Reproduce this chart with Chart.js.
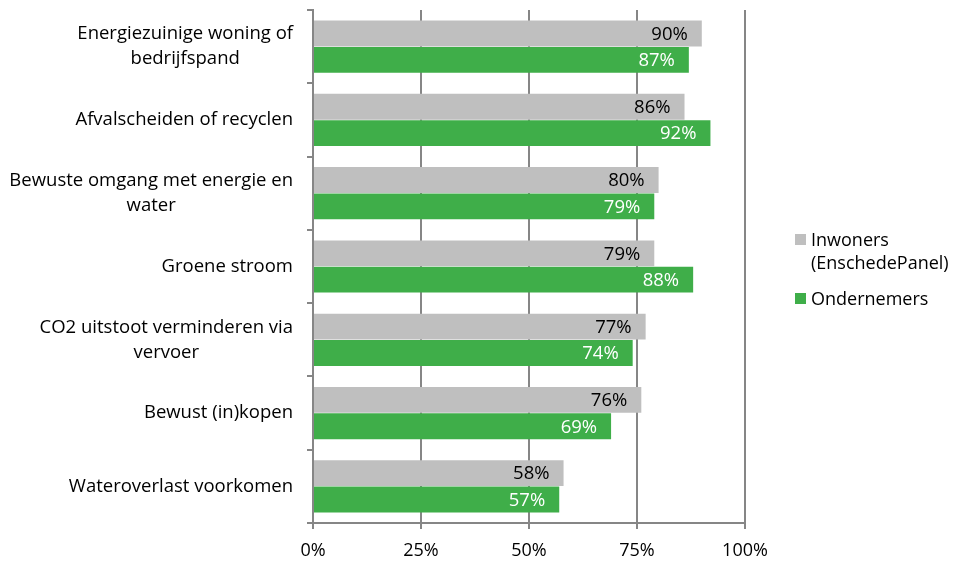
<!DOCTYPE html>
<html>
<head>
<meta charset="utf-8">
<script src="https://cdn.jsdelivr.net/npm/chart.js@4/dist/chart.umd.min.js"></script>
<style>
  html, body { margin: 0; padding: 0; background: #fff; }
  #wrap { position: relative; width: 955px; height: 563px; }
  #legend { position: absolute; left: 795px; top: 228px; font-family: "Open Sans", Lato, sans-serif; font-size: 18px; color: #000; line-height: 23px; white-space: nowrap; }
  .item { display: flex; align-items: flex-start; margin-bottom: 13px; }
  .box { width: 11px; height: 11px; margin-top: 6px; margin-right: 5px; flex: none; }
</style>
</head>
<body>
<div id="wrap">
  <canvas id="c" width="955" height="563"></canvas>
  <div id="legend"></div>
</div>
<script>
const categories = [
  ["Energiezuinige woning of", "bedrijfspand"],
  ["Afvalscheiden of recyclen"],
  ["Bewuste omgang met energie en", "water"],
  ["Groene stroom"],
  ["CO2 uitstoot verminderen via", "vervoer"],
  ["Bewust (in)kopen"],
  ["Wateroverlast voorkomen"]
];
const seriesNames = [["Inwoners", "(EnschedePanel)"], ["Ondernemers"]];
const inwoners = [90, 86, 80, 79, 77, 76, 58];
const ondernemers = [87, 92, 79, 88, 74, 69, 57];
const xTicks = [0, 25, 50, 75, 100];

const FONT = '"Open Sans", Lato, sans-serif';
const colors = ['#bfbfbf', '#3fae49'];
const labelColors = ['#000000', '#ffffff'];

const yLabelPlugin = {
  id: 'yLabels',
  afterDraw(chart) {
    const ctx = chart.ctx;
    const y = chart.scales.y;
    ctx.save();
    ctx.font = '18.5px ' + FONT;
    ctx.fillStyle = '#000';
    ctx.textBaseline = 'middle';
    const rightEdge = y.right - 20;
    const lh = 25;
    categories.forEach((lines, i) => {
      const cy = y.getPixelForTick(i);
      const widths = lines.map(l => ctx.measureText(l).width);
      const maxW = Math.max(...widths);
      const center = rightEdge - maxW / 2;
      ctx.textAlign = 'center';
      lines.forEach((l, k) => {
        const ly = cy + (k - (lines.length - 1) / 2) * lh;
        ctx.fillText(l, center, ly);
      });
    });
    ctx.restore();
  }
};

const valueLabelPlugin = {
  id: 'valueLabels',
  afterDatasetsDraw(chart) {
    const ctx = chart.ctx;
    ctx.save();
    ctx.font = '18.5px ' + FONT;
    ctx.textAlign = 'right';
    ctx.textBaseline = 'middle';
    chart.data.datasets.forEach((ds, di) => {
      const meta = chart.getDatasetMeta(di);
      ctx.fillStyle = labelColors[di];
      meta.data.forEach((bar, i) => {
        ctx.fillText(ds.data[i] + '%', bar.x - 14, bar.y + 1);
      });
    });
    ctx.restore();
  }
};

new Chart(document.getElementById('c'), {
  type: 'bar',
  data: {
    labels: categories.map(c => c.join(' ')),
    datasets: [
      { label: seriesNames[0].join(' '), data: inwoners, backgroundColor: colors[0], categoryPercentage: 0.72, barPercentage: 0.98 },
      { label: seriesNames[1].join(' '), data: ondernemers, backgroundColor: colors[1], categoryPercentage: 0.72, barPercentage: 0.98 }
    ]
  },
  options: {
    indexAxis: 'y',
    responsive: false,
    animation: false,
    devicePixelRatio: 1,
    layout: { padding: { top: 10, right: 210, left: 0, bottom: 0 } },
    plugins: { legend: { display: false }, tooltip: { enabled: false } },
    scales: {
      x: {
        min: 0, max: 100,
        afterBuildTicks(scale) { scale.ticks = xTicks.map(v => ({ value: v })); },
        afterFit(scale) { scale.height = 40; },
        ticks: {
          callback: v => v + '%',
          font: { family: FONT, size: 18 },
          color: '#000',
          padding: 11,
          maxRotation: 0
        },
        grid: { color: '#868686', lineWidth: 2, tickLength: 6, tickColor: '#868686' },
        border: { color: '#868686', width: 2 }
      },
      y: {
        afterFit(scale) { scale.width = 313; },
        ticks: { display: false },
        grid: { offset: true, drawOnChartArea: false, color: '#868686', lineWidth: 2, tickLength: 6 },
        border: { color: '#868686', width: 2 }
      }
    }
  },
  plugins: [yLabelPlugin, valueLabelPlugin]
});

const legend = document.getElementById('legend');
seriesNames.forEach((name, i) => {
  const item = document.createElement('div');
  item.className = 'item';
  const box = document.createElement('div');
  box.className = 'box';
  box.style.background = colors[i];
  const txt = document.createElement('div');
  txt.innerHTML = name.join('<br>');
  item.appendChild(box);
  item.appendChild(txt);
  legend.appendChild(item);
});
</script>
</body>
</html>
